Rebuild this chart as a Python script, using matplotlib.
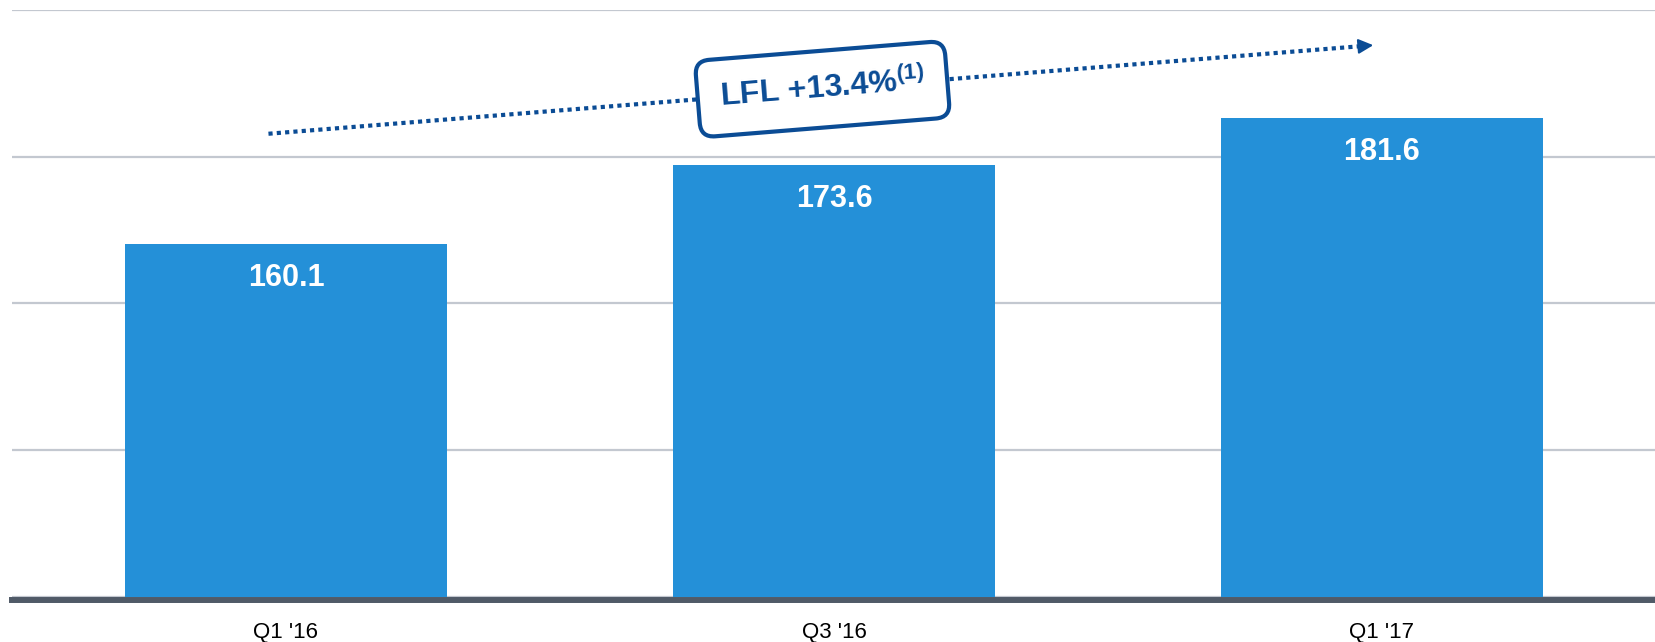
import matplotlib
matplotlib.use("Agg")
import matplotlib.pyplot as plt
import math

categories = ["Q1 '16", "Q3 '16", "Q1 '17"]
values = [160.1, 173.6, 181.6]
value_labels = ["160.1", "173.6", "181.6"]
annotation_text = "LFL +13.4%$^{\\mathbf{(1)}}$"

plt.rcParams['font.family'] = ['Liberation Sans', 'DejaVu Sans']
plt.rcParams['mathtext.fontset'] = 'custom'
plt.rcParams['mathtext.rm'] = 'Liberation Sans'
plt.rcParams['mathtext.bf'] = 'Liberation Sans:bold'
plt.rcParams['mathtext.it'] = 'Liberation Sans:italic'

BAR = '#2490d8'
DARK = '#0b4c95'
GRID = '#c3c8d0'
BASE = '#505a67'

fig = plt.figure(figsize=(16.56, 6.42), dpi=100)
ax = fig.add_axes([12/1656, (642-596.5)/642, 1644/1656, 586.5/642])

x = list(range(len(categories)))
ax.bar(x, values, width=0.589, color=BAR, zorder=3)
ax.set_xlim(-0.5, 2.5)
ax.set_ylim(100, 200)
ax.set_yticks([100, 125, 150, 175, 200])
ax.yaxis.grid(True, color=GRID, linewidth=1.6, zorder=0)
ax.set_axisbelow(True)
ax.tick_params(axis='y', left=False, labelleft=False)
ax.tick_params(axis='x', bottom=False, labelsize=16, pad=12.5, colors='black')
ax.set_xticks(x)
ax.set_xticklabels(categories)
for s in ['top', 'left', 'right']:
    ax.spines[s].set_visible(False)
ax.spines['bottom'].set_color(BASE)
ax.spines['bottom'].set_linewidth(4.3)
ax.spines['bottom'].set_position(('outward', 2.2))
ax.spines['bottom'].set_zorder(4)

for xi, v, lab in zip(x, values, value_labels):
    ax.annotate(lab, (xi, v), xytext=(0, -34 * 0.72), textcoords='offset points',
                ha='center', va='center', color='white', fontsize=22,
                fontweight='bold', zorder=5)

# trend arrow (dotted) with arrowhead
x0, y0 = 0.156, 0.789
x1, y1 = 0.828, 0.940
slope = (y1 - y0) / (x1 - x0)
ax.plot([x0, x1 - 0.006], [y0, y1 - 0.006 * slope],
        transform=ax.transAxes, color=DARK, linewidth=3.0,
        linestyle=(0, (1, 1)), dash_capstyle='butt', zorder=6, clip_on=False)
ax.annotate('', xy=(x1, y1), xycoords='axes fraction',
            xytext=(x1 - 0.008, y1 - 0.008 * slope), textcoords='axes fraction',
            arrowprops=dict(arrowstyle='-|>,head_length=0.9,head_width=0.45',
                            color=DARK, linewidth=1.5, shrinkA=0, shrinkB=0),
            zorder=6)

ang = math.degrees(math.atan2(89, 1104))
ax.text(0.493, 0.865, annotation_text, transform=ax.transAxes, rotation=ang,
        rotation_mode='anchor', ha='center', va='center', fontsize=23,
        fontweight='bold', color=DARK, zorder=7,
        bbox=dict(boxstyle='round,pad=0.7,rounding_size=0.45', facecolor='white',
                  edgecolor=DARK, linewidth=3))

fig.savefig('out.png', dpi=100)
